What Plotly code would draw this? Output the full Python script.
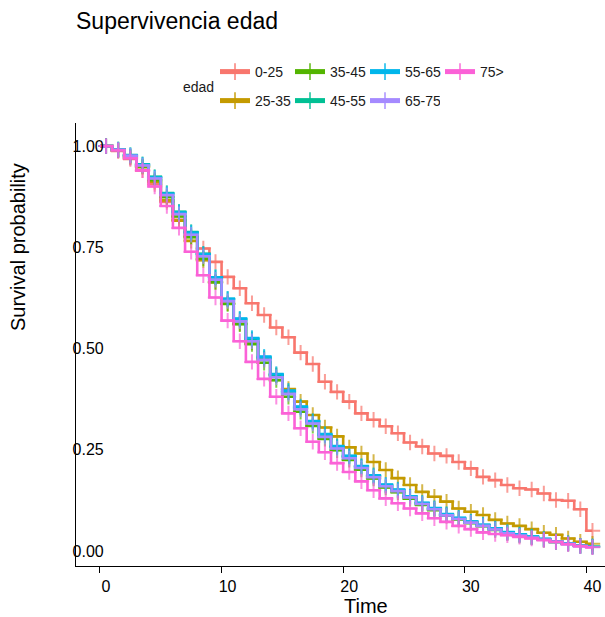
import plotly.graph_objects as go

# ---------------- data ----------------
TIME = list(range(41))          # step starts (0..40)
GROUPS = ["0-25", "25-35", "35-45", "45-55", "55-65", "65-75", "75>"]
COLORS = ["#F8766D", "#C49A00", "#53B400", "#00C094", "#00B6EB", "#A58AFF", "#FB61D7"]

S_0_25 = [1.000, 0.988, 0.968, 0.940, 0.906, 0.862, 0.818, 0.778, 0.747, 0.714,
          0.677, 0.649, 0.612, 0.583, 0.552, 0.528, 0.490, 0.462, 0.418, 0.393,
          0.369, 0.340, 0.324, 0.308, 0.291, 0.268, 0.258, 0.241, 0.235, 0.220,
          0.204, 0.183, 0.175, 0.163, 0.155, 0.152, 0.142, 0.126, 0.124, 0.103,
          0.050]
S_25_35 = [1.000, 0.990, 0.972, 0.948, 0.912, 0.866, 0.816, 0.766, 0.718, 0.664,
           0.612, 0.562, 0.516, 0.473, 0.434, 0.400, 0.369, 0.336, 0.305, 0.283,
           0.256, 0.241, 0.220, 0.200, 0.180, 0.163, 0.146, 0.134, 0.122, 0.105,
           0.097, 0.089, 0.077, 0.068, 0.062, 0.054, 0.045, 0.040, 0.031, 0.023,
           0.018]
S_35_45 = [1.000, 0.990, 0.974, 0.950, 0.916, 0.874, 0.826, 0.775, 0.722, 0.664,
           0.610, 0.560, 0.511, 0.465, 0.422, 0.381, 0.344, 0.309, 0.277, 0.249,
           0.225, 0.201, 0.179, 0.157, 0.145, 0.129, 0.114, 0.101, 0.087, 0.078,
           0.069, 0.061, 0.052, 0.044, 0.038, 0.034, 0.028, 0.022, 0.018, 0.013,
           0.011]
S_45_55 = [1.000, 0.992, 0.978, 0.955, 0.924, 0.884, 0.838, 0.788, 0.734, 0.676,
           0.622, 0.572, 0.523, 0.477, 0.434, 0.392, 0.354, 0.319, 0.286, 0.257,
           0.233, 0.208, 0.185, 0.162, 0.150, 0.134, 0.118, 0.105, 0.090, 0.081,
           0.072, 0.064, 0.055, 0.046, 0.040, 0.035, 0.029, 0.023, 0.019, 0.013,
           0.011]
S_55_65 = [1.000, 0.991, 0.977, 0.954, 0.922, 0.882, 0.836, 0.786, 0.733, 0.676,
           0.623, 0.574, 0.526, 0.480, 0.437, 0.396, 0.357, 0.321, 0.289, 0.259,
           0.235, 0.210, 0.187, 0.164, 0.152, 0.135, 0.119, 0.106, 0.091, 0.082,
           0.073, 0.065, 0.056, 0.047, 0.041, 0.036, 0.030, 0.024, 0.019, 0.013,
           0.011]
S_65_75 = [1.000, 0.991, 0.976, 0.952, 0.920, 0.879, 0.832, 0.781, 0.728, 0.670,
           0.617, 0.567, 0.518, 0.472, 0.429, 0.388, 0.350, 0.315, 0.282, 0.253,
           0.229, 0.205, 0.182, 0.160, 0.148, 0.132, 0.116, 0.103, 0.088, 0.079,
           0.070, 0.062, 0.053, 0.044, 0.038, 0.033, 0.028, 0.022, 0.017, 0.012,
           0.010]
S_75 = [1.000, 0.989, 0.970, 0.940, 0.900, 0.852, 0.798, 0.739, 0.681, 0.626,
        0.569, 0.518, 0.467, 0.425, 0.381, 0.340, 0.303, 0.270, 0.244, 0.217,
        0.195, 0.172, 0.150, 0.130, 0.118, 0.105, 0.093, 0.081, 0.072, 0.062,
        0.054, 0.046, 0.042, 0.039, 0.035, 0.031, 0.027, 0.023, 0.017, 0.012,
        0.009]

SURV = [S_0_25, S_25_35, S_35_45, S_45_55, S_55_65, S_65_75, S_75]
CENSOR_OFFSET = 0.5   # censor mark half-way along each step
Y_TICKS = [0, 0.25, 0.5, 0.75, 1.0]
X_TICKS = [0, 10, 20, 30, 40]

FONT = "Liberation Sans, Arial, sans-serif"
W, H = 605, 617
ML, MR, MT, MB = 76, 0, 123, 51
PW, PH = W - ML - MR, H - MT - MB


def px_x(x):
    return (x - ML) / PW


def px_y(y):
    return (H - MB - y) / PH


fig = go.Figure()
LEGEND_OF = {"0-25": "legend", "35-45": "legend", "55-65": "legend", "75>": "legend",
             "25-35": "legend2", "45-55": "legend2", "65-75": "legend2"}

for name, surv, col in zip(GROUPS, SURV, COLORS):
    xs, ys, sz = [], [], []
    for t, s in zip(TIME, surv):
        xs += [t, t + CENSOR_OFFSET]
        ys += [s, s]
        sz += [0, 11]
    fig.add_trace(go.Scatter(
        x=xs, y=ys, name=name, mode="lines+markers",
        line=dict(color=col, width=2.6, shape="hv"),
        marker=dict(symbol="cross-thin", size=sz, color=col,
                    line=dict(color=col, width=2)),
        legend=LEGEND_OF[name],
    ))

leg_common = dict(orientation="h", xref="container", yref="container",
                  xanchor="left", yanchor="top",
                  font=dict(family=FONT, size=14, color="#1a1a1a"),
                  entrywidth=30, itemsizing="constant", bgcolor="rgba(0,0,0,0)",
                  itemwidth=30)

fig.update_layout(
    width=W, height=H,
    paper_bgcolor="white", plot_bgcolor="white",
    margin=dict(l=ML, r=MR, t=MT, b=MB),
    font=dict(family=FONT, color="black"),
    title=dict(text="Supervivencia edad", x=76 / W, xref="container", xanchor="left",
               y=1 - 21 / H, yref="container", yanchor="middle",
               font=dict(family=FONT, size=23, color="black")),
    legend=dict(x=215 / W, y=1 - 56 / H, **leg_common),
    legend2=dict(x=215 / W, y=1 - 85 / H, **leg_common),
    xaxis=dict(range=[-1.97, 41.53], tickvals=X_TICKS, showgrid=False, zeroline=False,
               showline=True, linecolor="black", linewidth=1.1,
               ticks="outside", ticklen=6, tickcolor="black", tickwidth=1.1,
               tickfont=dict(family=FONT, size=16, color="black"), ticklabelshift=6),
    yaxis=dict(range=[-0.037, 1.057], tickvals=Y_TICKS, tickformat=".2f", showgrid=False,
               zeroline=False, showline=True, linecolor="black", linewidth=1.1,
               ticks="", tickfont=dict(family=FONT, size=16, color="black"),
               ticklabelstandoff=-32),
    annotations=[
        dict(text="edad", x=px_x(198), y=px_y(87), xref="paper", yref="paper",
             xanchor="center", yanchor="middle", showarrow=False,
             font=dict(family=FONT, size=14, color="#1a1a1a")),
        dict(text="Time", x=px_x(366), y=px_y(606), xref="paper", yref="paper",
             xanchor="center", yanchor="middle", showarrow=False,
             font=dict(family=FONT, size=20, color="black")),
        dict(text="Survival probability", x=px_x(18), y=px_y(247), xref="paper",
             yref="paper", xanchor="center", yanchor="middle", textangle=-90,
             showarrow=False, font=dict(family=FONT, size=20, color="black")),
    ],
)

fig.write_html("out.html")
